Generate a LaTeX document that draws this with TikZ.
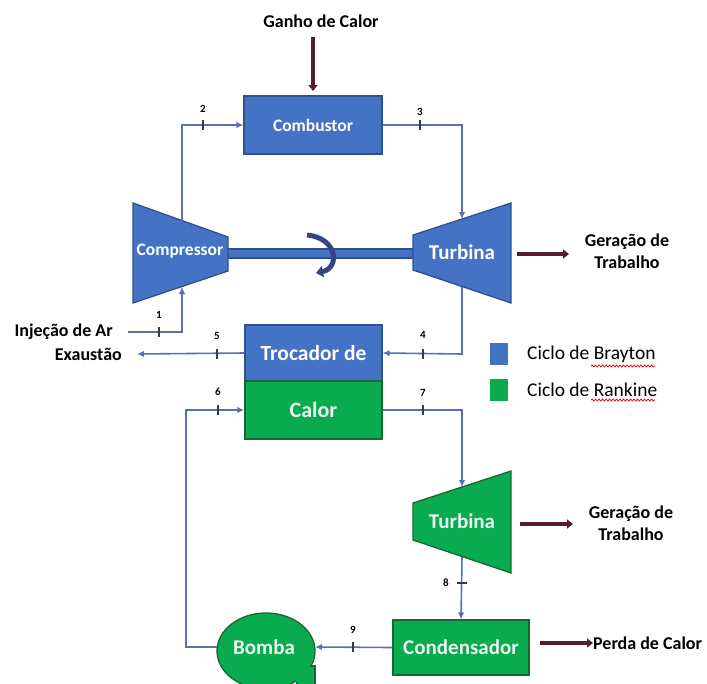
\documentclass[tikz,border=0pt]{standalone}
\usepackage{fontspec}
\setmainfont{Carlito}
\usetikzlibrary{arrows.meta,decorations.pathmorphing}

\definecolor{bfill}{HTML}{4472C4}
\definecolor{bline}{HTML}{2F528F}
\definecolor{gfill}{HTML}{0AAA4E}
\definecolor{gline}{HTML}{1B6636}
\definecolor{flow}{HTML}{5B6DB5}
\definecolor{energy}{HTML}{561C30}
\definecolor{spin}{HTML}{34448A}
\definecolor{ticks}{HTML}{3A3A3A}
\definecolor{paletext}{HTML}{EAF6EE}

\tikzset{
  bluebox/.style={draw=bline, fill=bfill, line width=1.3pt},
  greenbox/.style={draw=gline, fill=gfill, line width=1.3pt},
  boxtext/.style={text=white, inner sep=0pt},
  label/.style={text=black, font=\bfseries\fontsize{18}{22}\selectfont, align=center, inner sep=0pt},
  legendtext/.style={text=black, font=\fontsize{19.5}{22}\selectfont, inner sep=0pt},
  statenum/.style={text=black, font=\bfseries\fontsize{11}{12}\selectfont, inner sep=0pt},
  flowline/.style={draw=flow, line width=1.6pt, -{Latex[length=7pt,width=6.5pt]}},
  energyarrow/.style={draw=energy, line width=3.6pt, -{Triangle[length=6pt,width=9pt]}},
  tickmark/.style={draw=ticks, line width=1.1pt},
  squiggle/.style={draw=red!85!black, line width=0.7pt, decorate,
    decoration={snake, amplitude=1pt, segment length=3.5pt}}
}

\begin{document}
\begin{tikzpicture}[x=1pt, y=-1pt]
\useasboundingbox (0,0) rectangle (707,683);

% ---------------- Brayton cycle ----------------
% shaft between compressor and turbine
\draw[bluebox, line width=1.1pt] (226,249) rectangle (415,258);

% combustor
\node[bluebox, minimum width=138pt, minimum height=58pt] (comb) at (313,125) {};
\node[boxtext, font=\bfseries\fontsize{17.5}{20}\selectfont] at (comb) {Combustor};

% compressor (trapezoid)
\draw[bluebox] (133,203) -- (228,237) -- (228,271) -- (133,303) -- cycle;
\node[boxtext, font=\bfseries\fontsize{17.5}{20}\selectfont] (compr) at (180,251) {Compressor};
\coordinate (comprtop) at (182,221);
\coordinate (comprbot) at (182,287);

% gas turbine (trapezoid)
\draw[bluebox] (413,235) -- (511,203) -- (511,303) -- (413,270) -- cycle;
\node[boxtext, font=\bfseries\fontsize{21}{24}\selectfont] (gturb) at (462,252) {Turbina};
\coordinate (gturbtop) at (462,219);
\coordinate (gturbbot) at (462,287);

% rotation arrow around the shaft
\draw[draw=spin, line width=5pt, -{Triangle[length=7pt,width=11pt]}]
  (307,235) .. controls (338,238) and (340,268) .. (316,273);

% heat exchanger (upper blue half, lower green half)
\node[bluebox, minimum width=137pt, minimum height=56pt] (hxtop) at (313.5,353) {};
\node[greenbox, minimum width=137pt, minimum height=58pt] (hxbot) at (313.5,410) {};
\node[boxtext, font=\bfseries\fontsize{21.5}{24}\selectfont] at (hxtop) {Trocador de};
\node[boxtext, font=\bfseries\fontsize{22}{25}\selectfont, text=paletext] at (hxbot) {Calor};

% ---------------- Rankine cycle ----------------
% steam turbine (trapezoid)
\draw[greenbox] (413,503) -- (511,471) -- (511,573) -- (413,540) -- cycle;
\node[boxtext, font=\bfseries\fontsize{21}{24}\selectfont, text=paletext] (sturb) at (462,521) {Turbina};
\coordinate (sturbtop) at (462,487);
\coordinate (sturbbot) at (462,557);

% condenser
\node[greenbox, minimum width=136pt, minimum height=55pt] (cond) at (461,647.5) {};
\node[boxtext, font=\bfseries\fontsize{21}{24}\selectfont, text=paletext] at (cond) {Condensador};

% pump: round casing with a discharge tab
\draw[greenbox] (297,666) rectangle (315,695);
\draw[greenbox] (266,651) ellipse [x radius=49pt, y radius=38pt];
\fill[gfill] (296,667) rectangle (314,682);
\node[boxtext, font=\bfseries\fontsize{21}{24}\selectfont, text=paletext] (pump) at (264,647) {Bomba};
\coordinate (pumpleft) at (217,647);
\coordinate (pumpright) at (315,647);

% ---------------- flow connectors ----------------
\coordinate (b2) at (182,125);
\coordinate (b3) at (462,125);
\coordinate (airin) at (128,332);
\coordinate (b1) at (182,332);
\coordinate (b4) at (462,354);
\coordinate (exh) at (137,354);
\coordinate (r6a) at (186,647);
\coordinate (r6b) at (186,410);
\coordinate (r7) at (462,410);

\draw[flowline] (comprtop) -- (b2) -- (comb.west);
\draw[flowline] (comb.east) -- (b3) -- (gturbtop);
\draw[flowline] (airin) -- (b1) -- (comprbot);
\draw[flowline] (gturbbot) -- (b4) -- (hxtop.east);
\draw[flowline] (hxtop.west) -- (exh);
\draw[flowline] (pumpleft) -- (r6a) -- (r6b) -- (hxbot.west);
\draw[flowline] (hxbot.east) -- (r7) -- (sturbtop);
\draw[flowline] (sturbbot) -- (cond.north);
\draw[flowline] (cond.west) -- (pumpright);

% state points
\draw[tickmark] (203,120) -- (203,130);  \node[statenum] (s2) at (203,109) {2};
\draw[tickmark] (420,120) -- (420,130);  \node[statenum] (s3) at (420,112) {3};
\draw[tickmark] (159,327) -- (159,337);  \node[statenum] (s1) at (159,315) {1};
\draw[tickmark] (423,349) -- (423,359);  \node[statenum] (s4) at (423,335) {4};
\draw[tickmark] (217,349) -- (217,359);  \node[statenum] (s5) at (217,336) {5};
\draw[tickmark] (218,405) -- (218,415);  \node[statenum] (s6) at (218,392) {6};
\draw[tickmark] (423,405) -- (423,415);  \node[statenum] (s7) at (423,393) {7};
\draw[tickmark] (457,583) -- (467,583);  \node[statenum] (s8) at (446,583) {8};
\draw[tickmark] (353,642) -- (353,652);  \node[statenum] (s9) at (353,630) {9};

% ---------------- energy flows and labels ----------------
\node[label] (heatin) at (321,21) {Ganho de Calor};
\coordinate (heatend) at (313,91);
\draw[energyarrow] (313,37) -- (heatend);

\node[label, anchor=east] (air) at (113,332) {Injeção de Ar};
\node[label, anchor=east] (exhtxt) at (122,354) {Exaustão};

\coordinate (w1a) at (517,254);
\node[label, font=\fontsize{18}{22}\selectfont\bfseries] (work1) at (627,251) {Geração de\\Trabalho};
\draw[energyarrow] (w1a) -- (569,254);

\coordinate (w2a) at (520,524);
\node[label, font=\fontsize{18}{22}\selectfont\bfseries] (work2) at (631,523) {Geração de\\Trabalho};
\draw[energyarrow] (w2a) -- (573,524);

\coordinate (q2a) at (540,643);
\node[label, anchor=west] (heatout) at (593,643) {Perda de Calor};
\draw[energyarrow] (q2a) -- (heatout.west);

% ---------------- legend ----------------
\node[fill=bfill, minimum width=18pt, minimum height=22pt, inner sep=0pt] (legb) at (499,354) {};
\node[fill=gfill, minimum width=18pt, minimum height=22pt, inner sep=0pt] (legg) at (499,390) {};
\node[legendtext, anchor=west] (legbt) at (527,354) {Ciclo de Brayton};
\node[legendtext, anchor=west] (leggt) at (527,390) {Ciclo de Rankine};
\draw[squiggle] (591,366) -- (655,366);
\draw[squiggle] (591,400) -- (655,400);
\end{tikzpicture}
\end{document}
